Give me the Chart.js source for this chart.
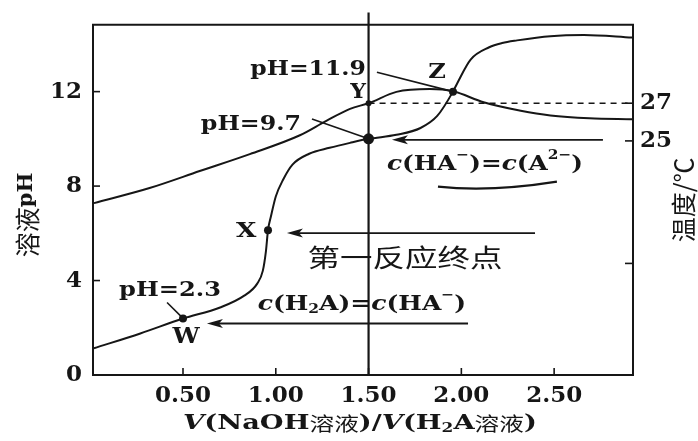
<!DOCTYPE html>
<html><head><meta charset="utf-8">
<script src="https://cdn.jsdelivr.net/npm/chart.js@4.4.1/dist/chart.umd.min.js"></script>
<style>html,body{margin:0;padding:0;background:#fff}</style>
</head><body>
<canvas id="c" width="698" height="441"></canvas>
<script>
// ---- data ----
const phV   = [0.02, 0.27, 0.50, 0.70, 0.83, 0.90, 0.93, 0.947, 0.958, 0.974, 1.00, 1.04, 1.09, 1.18, 1.29, 1.40, 1.50, 1.65, 1.78, 1.87, 1.955, 1.98, 2.05, 2.15, 2.22, 2.30, 2.48, 2.66, 2.92];
const phVal = [1.13, 1.76, 2.39, 2.86, 3.36, 3.87, 4.41, 5.25, 6.13, 6.72, 7.56, 8.28, 8.91, 9.37, 9.62, 9.83, 10.00, 10.17, 10.46, 10.97, 12.00, 12.39, 13.36, 13.88, 14.06, 14.17, 14.35, 14.40, 14.29];
const tempV   = [0.02, 0.32, 0.59, 0.86, 1.13, 1.27, 1.40, 1.50, 1.65, 1.83, 1.955, 2.12, 2.32, 2.48, 2.69, 2.92];
const tempVal = [21.7, 22.5, 23.4, 24.3, 25.3, 26.05, 26.7, 27.0, 27.6, 27.75, 27.63, 27.05, 26.6, 26.35, 26.2, 26.15];
const xTicks = [0.5, 1.0, 1.5, 2.0, 2.5];
const phTicks = [0, 4, 8, 12];
const tempTickValues = [18.5, 25, 27];
const tempTickLabels = ['', '25', '27'];
const endpointV = 1.5;                 // vertical marker
const markerPH = [0, 15.35];
const dashTempV = [1.5, 2.92];
const dashTemp = 27;
const keyV  = [0.50, 0.958, 1.50, 1.955];   // W, X, c(HA-)=c(A2-), Z
const keyPH = [2.39, 6.13, 10.00, 12.00];
const keyR  = [4, 4, 5.5, 4];
const yPointTemp = 27;                 // Y point on temperature curve

const INK = '#161616';
const LB = s => `bold ${s}px "DejaVu Serif"`;
const LI = s => `italic bold ${s}px "DejaVu Serif"`;
const CJ = s => `${s}px "Noto Sans CJK SC"`;

function sup(t, s){ return {t, f: LB(Math.round(s*0.62)), dy: -0.45*s}; }
function sub(t, s){ return {t, f: LB(Math.round(s*0.62)), dy: 0.22*s}; }
function seg(t, f){ return {t, f, dy: 0}; }

// annotations in data coordinates (v, pH)
const S = 21;
const notes = [
  {v:1.174, p:12.94, sx:1.12, segs:[seg('pH=11.9', LB(S))]},
  {v:1.443, p:11.97, sx:1.1,  segs:[seg('Y', LB(20))]},
  {v:1.869, p:12.82, sx:1.15, segs:[seg('Z', LB(21))]},
  {v:0.866, p:10.59, sx:1.13, segs:[seg('pH=9.7', LB(S))]},
  {v:2.127, p:8.91,  sx:1.18, segs:[seg('c', LI(S)), seg('(HA', LB(S)), sup('\u2212', S), seg(')=', LB(S)), seg('c', LI(S)), seg('(A', LB(S)), sup('2\u2212', S), seg(')', LB(S))]},
  {v:0.84,  p:6.09,  sx:1.25, segs:[seg('X', LB(21))]},
  {v:1.696, p:4.96,  sx:1.3,  segs:[seg('第一反应终点', CJ(25))]},
  {v:1.464, p:2.98,  sx:1.19, segs:[seg('c', LI(S)), seg('(H', LB(S)), sub('2', S), seg('A)=', LB(S)), seg('c', LI(S)), seg('(HA', LB(S)), sup('\u2212', S), seg(')', LB(S))]},
  {v:0.43,  p:3.57,  sx:1.15, segs:[seg('pH=2.3', LB(S))]},
  {v:0.516, p:1.6,   sx:1.1,  segs:[seg('W', LB(22))]}
];
const leaders = [
  [1.545, 12.82, 1.955, 12.0],
  [1.195, 10.84, 1.5, 10.0],
  [0.414, 3.07, 0.495, 2.44]
];
const arrows = [
  [2.763, 9.96, 1.626, 9.96],
  [2.397, 6.01, 1.06, 6.01],
  [2.036, 2.18, 0.629, 2.18]
];
const squiggle = [1.874, 7.98, 2.155, 7.74, 2.515, 8.19];

function drawRich(ctx, segs, cx, cy, sx, rot){
  let w = 0;
  segs.forEach(s => { ctx.font = s.f; s.w = ctx.measureText(s.t).width; w += s.w; });
  ctx.save();
  ctx.translate(cx, cy);
  if (rot) ctx.rotate(rot);
  ctx.scale(sx || 1, 1);
  ctx.textBaseline = 'middle';
  ctx.textAlign = 'left';
  ctx.fillStyle = INK;
  let x = -w/2;
  segs.forEach(s => { ctx.font = s.f; ctx.fillText(s.t, x, s.dy); x += s.w; });
  ctx.restore();
}

const deco = {
  id: 'deco',
  afterDatasetsDraw(chart){
    const {ctx, chartArea: a, scales} = chart;
    const X = scales.x, Y = scales.y, T = scales.y2;
    ctx.save();
    ctx.strokeStyle = INK; ctx.fillStyle = INK; ctx.lineCap = 'butt';
    // top frame line
    ctx.lineWidth = 2;
    ctx.beginPath(); ctx.moveTo(a.left - 1, a.top); ctx.lineTo(a.right + 1, a.top); ctx.stroke();
    // inward tick marks
    ctx.lineWidth = 1.6;
    X.ticks.forEach(t => { const p = X.getPixelForValue(t.value); ctx.beginPath(); ctx.moveTo(p, a.bottom); ctx.lineTo(p, a.bottom - 7); ctx.stroke(); });
    Y.ticks.forEach(t => { if (t.value === 0) return; const p = Y.getPixelForValue(t.value); ctx.beginPath(); ctx.moveTo(a.left, p); ctx.lineTo(a.left + 7, p); ctx.stroke(); });
    T.ticks.forEach(t => { const p = T.getPixelForValue(t.value); ctx.beginPath(); ctx.moveTo(a.right, p); ctx.lineTo(a.right - 8, p); ctx.stroke(); });
    // leader lines
    ctx.lineWidth = 1.6;
    leaders.forEach(l => { ctx.beginPath(); ctx.moveTo(X.getPixelForValue(l[0]), Y.getPixelForValue(l[1])); ctx.lineTo(X.getPixelForValue(l[2]), Y.getPixelForValue(l[3])); ctx.stroke(); });
    // arrows
    arrows.forEach(r => {
      const x1 = X.getPixelForValue(r[0]), y1 = Y.getPixelForValue(r[1]);
      const x2 = X.getPixelForValue(r[2]), y2 = Y.getPixelForValue(r[3]);
      ctx.lineWidth = 1.8;
      ctx.beginPath(); ctx.moveTo(x1, y1); ctx.lineTo(x2 + 10, y2); ctx.stroke();
      ctx.beginPath(); ctx.moveTo(x2, y2); ctx.lineTo(x2 + 16, y2 - 4.5); ctx.lineTo(x2 + 12, y2); ctx.lineTo(x2 + 16, y2 + 4.5); ctx.closePath(); ctx.fill();
    });
    // underline squiggle
    ctx.lineWidth = 2.2;
    ctx.beginPath();
    ctx.moveTo(X.getPixelForValue(squiggle[0]), Y.getPixelForValue(squiggle[1]));
    ctx.quadraticCurveTo(X.getPixelForValue(squiggle[2]), Y.getPixelForValue(squiggle[3]), X.getPixelForValue(squiggle[4]), Y.getPixelForValue(squiggle[5]));
    ctx.stroke();
    // text notes
    notes.forEach(n => drawRich(ctx, n.segs, X.getPixelForValue(n.v), Y.getPixelForValue(n.p), n.sx, 0));
    // axis titles
    const cxA = (a.left + a.right)/2, cyA = (a.top + a.bottom)/2;
    drawRich(ctx, [seg('溶液', CJ(25)), seg('pH', LB(21))], a.left - 66, cyA + 15, 1, -Math.PI/2);
    drawRich(ctx, [seg('温度/℃', CJ(25))], a.right + 50, cyA, 1, -Math.PI/2);
    const s2 = 21, c2 = 19;
    drawRich(ctx, [seg('V', LI(s2)), seg('(NaOH', LB(s2)), seg('溶液', CJ(c2)), seg(')/', LB(s2)), seg('V', LI(s2)), seg('(H', LB(s2)), sub('2', s2), seg('A', LB(s2)), seg('溶液', CJ(c2)), seg(')', LB(s2))], cxA - 3, a.bottom + 49, 1.3, 0);
    ctx.restore();
  }
};

const tickFont = {family: 'DejaVu Serif', weight: 'bold', size: 23};
new Chart(document.getElementById('c'), {
  type: 'line',
  data: {
    datasets: [
      {data: phV.map((v,i)=>({x:v, y:phVal[i]})), yAxisID:'y', borderColor:INK, borderWidth:2, cubicInterpolationMode:'monotone', pointRadius:0},
      {data: tempV.map((v,i)=>({x:v, y:tempVal[i]})), yAxisID:'y2', borderColor:INK, borderWidth:2, cubicInterpolationMode:'monotone', pointRadius:0},
      {data: dashTempV.map(v=>({x:v, y:dashTemp})), yAxisID:'y2', borderColor:INK, borderWidth:1.6, borderDash:[6,5], pointRadius:0},
      {data: markerPH.map(p=>({x:endpointV, y:p})), yAxisID:'y', borderColor:INK, borderWidth:2.2, pointRadius:0, clip:false},
      {data: keyV.map((v,i)=>({x:v, y:keyPH[i]})), yAxisID:'y', showLine:false, pointRadius:keyR, pointBackgroundColor:INK, pointBorderWidth:0},
      {data: [{x:endpointV, y:yPointTemp}], yAxisID:'y2', showLine:false, pointRadius:3, pointBackgroundColor:INK, pointBorderWidth:0}
    ]
  },
  options: {
    responsive:false, animation:false, devicePixelRatio:1,
    layout:{padding:{top:22, left:0, right:0, bottom:0}},
    plugins:{legend:{display:false}, tooltip:{enabled:false}},
    scales:{
      x:{type:'linear', min:0.015, max:2.925,
        afterBuildTicks: s => { s.ticks = xTicks.map(v=>({value:v})); },
        afterFit: s => { s.height = 66; },
        grid:{display:false, drawTicks:false}, border:{display:true, color:INK, width:2},
        ticks:{padding:7, color:INK, font:tickFont, autoSkip:false, maxRotation:0, callback: v => Number(v).toFixed(2)}},
      y:{type:'linear', position:'left', min:0, max:14.83,
        afterBuildTicks: s => { s.ticks = phTicks.map(v=>({value:v})); },
        afterFit: s => { s.width = 93; },
        grid:{display:false, drawTicks:false}, border:{display:true, color:INK, width:2},
        ticks:{padding:11, color:INK, font:tickFont, callback: v => String(v)}},
      y2:{type:'linear', position:'right', min:12.58, max:31.16,
        afterBuildTicks: s => { s.ticks = tempTickValues.map(v=>({value:v})); },
        afterFit: s => { s.width = 65; },
        grid:{display:false, drawTicks:false}, border:{display:true, color:INK, width:2},
        ticks:{padding:7, color:INK, font:tickFont, callback: v => tempTickLabels[tempTickValues.indexOf(v)] || ''}}
    }
  },
  plugins:[deco]
});
</script>
</body></html>
